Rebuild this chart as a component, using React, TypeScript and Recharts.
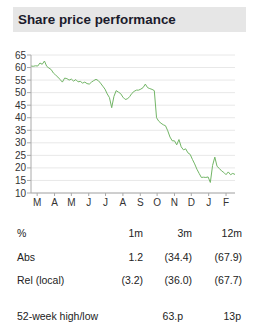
import React from 'react';
import { LineChart, Line, XAxis, YAxis, CartesianGrid } from 'recharts';

// share price (p), one reading every 4 days from mid-Feb
const prices = [
  60.6, 60.5, 60.7, 60.6, 61.8, 61.3, 62.6, 60.5, 59.8, 59.2,
  57.8, 57.0, 56.2, 55.2, 54.2, 55.8, 55.6, 55.0, 55.4, 54.6,
  55.2, 54.3, 54.5, 53.8, 54.2, 53.6, 53.4, 54.2, 54.8, 55.3,
  54.8, 53.8, 52.6, 51.4, 49.5, 48.0, 44.0, 48.5, 50.8, 50.2,
  49.6, 48.2, 47.3, 47.5, 48.4, 49.7, 50.5, 51.0, 51.0, 51.4,
  52.0, 53.4, 52.0, 51.6, 51.3, 50.8, 40.0, 38.6, 37.8, 37.2,
  36.8, 34.8, 32.3, 30.8, 30.8, 29.2, 31.3, 28.4, 27.2, 27.6,
  26.0, 25.4, 23.4, 21.6, 19.5, 17.8, 16.2, 16.3, 16.2, 16.4,
  14.2, 21.0, 24.3, 20.6, 19.8, 18.8, 18.2, 17.3, 18.4, 17.3,
  17.8, 17.4,
];
const STEP_DAYS = 4;

const monthLabels = ['M', 'A', 'M', 'J', 'J', 'A', 'S', 'O', 'N', 'D', 'J', 'F'];
const monthStartDays = [11, 42, 72, 103, 133, 164, 195, 225, 256, 286, 317, 348];
const yTicks = [10, 15, 20, 25, 30, 35, 40, 45, 50, 55, 60, 65];

const tableHeader = ['%', '1m', '3m', '12m'];
const tableRows = [
  ['Abs', '1.2', '(34.4)', '(67.9)'],
  ['Rel (local)', '(3.2)', '(36.0)', '(67.7)'],
];
const highLow = ['52-week high/low', '63.p', '13p'];

const data = prices.map((p, i) => ({ day: i * STEP_DAYS, price: p }));

const FONT = '"Liberation Sans", Arial, sans-serif';
const TEXT = '#222';

const colRights = [143, 192, 242];

const TextRow: React.FC<{ cells: string[]; top: number; rights: number[] }> = ({ cells, top, rights }) => (
  <>
    <div style={{ position: 'absolute', left: 17, top, fontSize: 10.5, color: TEXT, lineHeight: '12px' }}>
      {cells[0]}
    </div>
    {cells.slice(1).map((c, i) => (
      <div
        key={i}
        style={{
          position: 'absolute',
          right: 264 - rights[i],
          top,
          fontSize: 10.5,
          color: TEXT,
          lineHeight: '12px',
        }}
      >
        {c}
      </div>
    ))}
  </>
);

const App: React.FC = () => {
  const monthTick = (props: any) => {
    const { x, y, payload } = props;
    const idx = monthStartDays.indexOf(payload.value);
    return (
      <text x={x} y={y} dy={8} textAnchor="middle" fontSize={10} fill="#333" fontFamily={FONT}>
        {monthLabels[idx]}
      </text>
    );
  };

  return (
    <div
      style={{
        position: 'absolute',
        left: 0,
        top: 0,
        width: 264,
        height: 334,
        background: '#fff',
        fontFamily: FONT,
      }}
    >
      <div
        style={{
          position: 'absolute',
          left: 13,
          top: 7,
          width: 233,
          height: 25,
          background: '#e6e6e6',
        }}
      >
        <div
          style={{
            position: 'absolute',
            left: 5,
            top: 5,
            fontSize: 13.4,
            fontWeight: 'bold',
            color: '#1b1b2b',
            lineHeight: '15px',
          }}
        >
          Share price performance
        </div>
      </div>

      <div style={{ position: 'absolute', left: 0, top: 45 }}>
        <LineChart width={250} height={165} data={data} margin={{ top: 10, right: 15, bottom: 5, left: 0 }}>
          <CartesianGrid vertical={false} stroke="#e8e8e8" />
          <XAxis
            dataKey="day"
            type="number"
            domain={[0, 364]}
            ticks={monthStartDays}
            tick={monthTick}
            tickSize={3}
            height={12}
            stroke="#aaa"
            interval={0}
          />
          <YAxis
            domain={[10, 65]}
            ticks={yTicks}
            width={31}
            tickSize={4}
            tickMargin={1}
            stroke="#aaa"
            interval={0}
            tick={{ fontSize: 10, fill: '#333', fontFamily: FONT }}
          />
          <YAxis
            yAxisId="frame"
            orientation="right"
            width={0}
            tick={false}
            tickLine={false}
            stroke="#e0e0e0"
          />
          <Line
            type="linear"
            dataKey="price"
            stroke="#72b566"
            strokeWidth={1}
            dot={false}
            isAnimationActive={false}
          />
        </LineChart>
      </div>

      <TextRow cells={tableHeader} top={227} rights={colRights} />
      <TextRow cells={tableRows[0]} top={251} rights={colRights} />
      <TextRow cells={tableRows[1]} top={274} rights={colRights} />
      <TextRow cells={highLow} top={310} rights={[183, 241]} />
    </div>
  );
};

export default App;
